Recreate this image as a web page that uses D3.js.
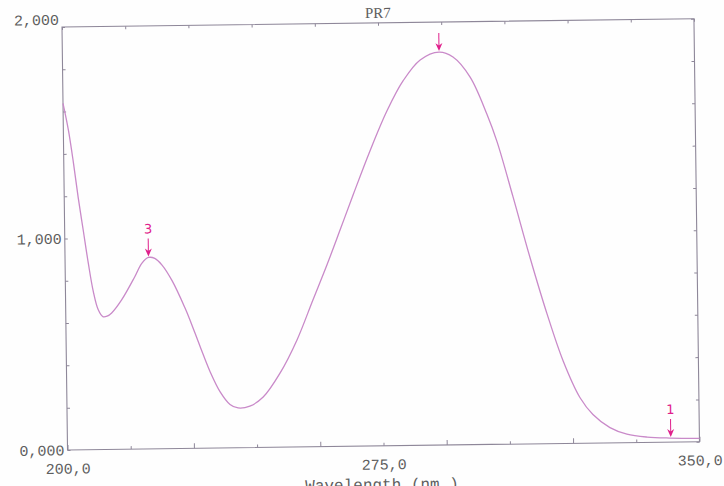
<!DOCTYPE html>
<html>
<head>
<meta charset="utf-8">
<script src="https://cdn.jsdelivr.net/npm/d3@7"></script>
<style>
  html, body { margin: 0; padding: 0; background: #fefefe; }
  svg { display: block; }
</style>
</head>
<body>
<svg id="chart" width="724" height="486"></svg>
<script>
// ---- data ----
const title = "PR7";
const xTitle = "Wavelength (nm.)";
const wavelength = [200, 201.2, 202.3, 203.3, 204.4, 205.5, 206.6, 207.7, 208.8, 209.8, 210.9,
  213.3, 216.5, 218.2, 219.8, 221.3, 223.0, 225.3, 228.3, 229.5, 231.8, 234.1, 236.4,
  238.7, 240.6, 243.4, 246.6, 250.7, 254.8, 258.7, 262.2, 265.4,
  268.6, 272.7, 276.9, 280.8, 284.9, 289.4, 292.7, 296.7, 300.6, 302.9,
  306.5, 310.3, 314.2, 317.9, 321.8, 324.8, 328.8, 332.8, 337.6, 343.0, 350];
const absorbance = [1.639, 1.512, 1.356, 1.195, 1.039, 0.883, 0.748, 0.662, 0.628, 0.630, 0.645,
  0.706, 0.815, 0.878, 0.905, 0.900, 0.868, 0.795, 0.665, 0.605, 0.480, 0.360, 0.265,
  0.205, 0.188, 0.196, 0.238, 0.351, 0.506, 0.694, 0.862, 1.025,
  1.190, 1.395, 1.585, 1.725, 1.822, 1.858, 1.834, 1.738, 1.560, 1.430,
  1.170, 0.885, 0.615, 0.390, 0.215, 0.135, 0.072, 0.040, 0.025, 0.019, 0.016];
const peakWavelengths = [289.4, 219.8, 343.2];
const peakLabels = ["", "3", "1"];
const xTicks = [200, 215, 230, 245, 260, 275, 290, 305, 320, 335, 350];
const xLabels = [200, 275, 350];
const yTicks = [0, 0.2, 0.4, 0.6, 0.8, 1.0, 1.2, 1.4, 1.6, 1.8, 2.0];
const yLabels = [0, 1, 2];

// ---- layout ----
const originX = 62, originY = 27, tilt = -0.75;
const w = 632, h = 423;
const axisColor = "#8e8799";
const textColor = "#5e5e5e";
const curveColor = "#c98ac9";
const markColor = "#e0208c";

const loc = d3.formatLocale({decimal: ",", thousands: ".", grouping: [3], currency: ["", ""]});
const fx = loc.format(".1f");
const fy = loc.format(".3f");

const svg = d3.select("#chart");
const g = svg.append("g").attr("transform", `translate(${originX},${originY}) rotate(${tilt})`);

const x = d3.scaleLinear().domain([200, 350]).range([0, w]);
const y = d3.scaleLinear().domain([0, 2]).range([h, 0]);

const mono = "'Liberation Mono', 'DejaVu Sans Mono', monospace";

// bottom axis
const gb = g.append("g").attr("transform", `translate(0,${h})`)
  .call(d3.axisBottom(x).tickValues(xTicks).tickSize(0).tickPadding(13)
    .tickFormat(d => xLabels.includes(d) ? fx(d) : ""));
gb.selectAll(".tick line").attr("y2", (d, i) => i % 2 ? -3 : -5);
// top axis
const gt = g.append("g")
  .call(d3.axisTop(x).tickValues(xTicks).tickSize(0).tickFormat(""));
gt.selectAll(".tick line").attr("y2", 3);
// left axis
const gl = g.append("g")
  .call(d3.axisLeft(y).tickValues(yTicks).tickSize(0).tickPadding(3)
    .tickFormat(d => yLabels.some(v => Math.abs(v - d) < 1e-9) ? fy(d) : ""));
gl.selectAll(".tick line").attr("x2", 3);
gl.selectAll(".tick text").filter(d => Math.abs(d - 2) < 1e-9).attr("dy", "-0.18em");
// right axis
const gr = g.append("g").attr("transform", `translate(${w},0)`)
  .call(d3.axisRight(y).tickValues(yTicks).tickSize(0).tickFormat(""));
gr.selectAll(".tick line").attr("x2", -3);

g.selectAll(".domain").remove();
g.selectAll(".tick line").attr("stroke", axisColor).attr("stroke-width", 1);
g.selectAll(".tick text").attr("fill", textColor).style("font-family", mono).style("font-size", "15px");

// frame
g.append("rect").attr("x", 0).attr("y", 0).attr("width", w).attr("height", h)
  .attr("fill", "none").attr("stroke", axisColor).attr("stroke-width", 1.1);

// titles
g.append("text").attr("x", w / 2).attr("y", -5).attr("text-anchor", "middle")
  .attr("fill", textColor).style("font-family", "'Liberation Serif', serif").style("font-size", "15px")
  .text(title);
g.append("text").attr("x", w / 2 - 2).attr("y", h + 44).attr("text-anchor", "middle")
  .attr("fill", textColor).style("font-family", mono).style("font-size", "16px")
  .text(xTitle);

// curve
const pts = wavelength.map((l, i) => [l, absorbance[i]]);
g.append("path").datum(pts)
  .attr("fill", "none").attr("stroke", curveColor).attr("stroke-width", 1.3)
  .attr("d", d3.line().x(d => x(d[0])).y(d => y(d[1])).curve(d3.curveCatmullRom.alpha(0.5)));

// peak markers
function valueAt(l) {
  const i = Math.max(1, Math.min(wavelength.length - 1, d3.bisectLeft(wavelength, l)));
  const t = (l - wavelength[i - 1]) / (wavelength[i] - wavelength[i - 1]);
  return absorbance[i - 1] + t * (absorbance[i] - absorbance[i - 1]);
}
const mk = g.append("g").selectAll("g").data(peakWavelengths).join("g")
  .attr("transform", d => `translate(${x(d)},${y(valueAt(d)) - 1})`);
mk.append("line").attr("x1", 0).attr("x2", 0).attr("y1", -18).attr("y2", -4)
  .attr("stroke", markColor).attr("stroke-width", 1);
mk.append("path").attr("d", "M0,0 L-3.5,-8 L0,-5.5 L3.5,-8 Z").attr("fill", markColor);
mk.append("text").attr("x", 0).attr("y", -23).attr("text-anchor", "middle")
  .attr("fill", markColor).style("font-family", "'DejaVu Sans', sans-serif").style("font-size", "13px")
  .text((d, i) => peakLabels[i]);
</script>
</body>
</html>
